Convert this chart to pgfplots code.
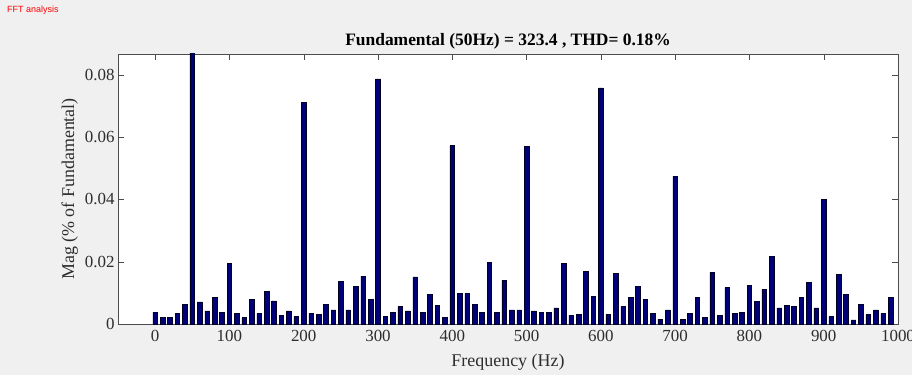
\documentclass[border=0pt]{standalone}
\usepackage{pgfplots}
\pgfplotsset{compat=1.18}
\usepackage{fontspec}
\setmainfont{Liberation Serif}
\newfontfamily\uisans{Liberation Sans}
\definecolor{bg}{RGB}{240,240,240}
\definecolor{barblue}{RGB}{0,0,120}
\definecolor{ticktxt}{RGB}{45,45,45}
\pgfplotstableread{
f m
0 0.0037
10 0.0020
20 0.0020
30 0.0034
40 0.0063
50 0.1000
60 0.0071
70 0.0042
80 0.0085
90 0.0037
100 0.0194
110 0.0034
120 0.0020
130 0.0080
140 0.0034
150 0.0105
160 0.0074
170 0.0028
180 0.0042
190 0.0024
200 0.0712
210 0.0034
220 0.0031
230 0.0063
240 0.0045
250 0.0136
260 0.0045
270 0.0120
280 0.0154
290 0.0080
300 0.0787
310 0.0024
320 0.0037
330 0.0056
340 0.0042
350 0.0151
360 0.0037
370 0.0094
380 0.0059
390 0.0020
400 0.0573
410 0.0098
420 0.0098
430 0.0063
440 0.0037
450 0.0197
460 0.0037
470 0.0140
480 0.0045
490 0.0045
500 0.0570
510 0.0042
520 0.0037
530 0.0037
540 0.0052
550 0.0194
560 0.0028
570 0.0031
580 0.0169
590 0.0088
600 0.0758
610 0.0031
620 0.0162
630 0.0056
640 0.0085
650 0.0120
660 0.0080
670 0.0034
680 0.0016
690 0.0045
700 0.0474
710 0.0016
720 0.0034
730 0.0085
740 0.0020
750 0.0166
760 0.0028
770 0.0117
780 0.0034
790 0.0037
800 0.0123
810 0.0073
820 0.0112
830 0.0218
840 0.0052
850 0.0059
860 0.0056
870 0.0085
880 0.0134
890 0.0052
900 0.0400
910 0.0024
920 0.0158
930 0.0095
940 0.0013
950 0.0063
960 0.0031
970 0.0045
980 0.0034
990 0.0085
}\fft
\begin{document}
\begin{tikzpicture}[x=1bp,y=1bp]
\path[use as bounding box,fill=bg] (0,0) rectangle (912,375);
\node[anchor=north west,inner sep=0pt,text=red,font=\uisans\fontsize{9}{10}\selectfont] at (7,369) {FFT analysis};
\begin{axis}[
  at={(118bp,51bp)}, anchor=south west,
  scale only axis, width=780bp, height=270bp,
  xmin=-50, xmax=1000, ymin=0, ymax=0.0867,
  scaled y ticks=false, scaled x ticks=false,
  axis background/.style={fill=white},
  axis line style={draw=black!70},
  xtick={0,100,...,1000},
  ytick={0,0.02,0.04,0.06,0.08},
  yticklabels={0,0.02,0.04,0.06,0.08},
  tick align=inside, tick pos=both,
  major tick length=6bp,
  tick style={black!70},
  /pgf/number format/assume math mode=true,
  /pgf/number format/1000 sep={},
  tick label style={font=\fontsize{17}{18}\selectfont, text=ticktxt},
  xticklabel style={yshift=-3bp},
  title={\textbf{Fundamental (50Hz) = 323.4 , THD= 0.18\%}},
  title style={font=\fontsize{17.5}{19}\selectfont, yshift=-5bp},
  xlabel={Frequency (Hz)},
  ylabel={Mag (\% of Fundamental)},
  label style={font=\fontsize{18}{20}\selectfont, text=ticktxt},
  xlabel style={yshift=-5bp},
  ylabel style={yshift=0bp},
]
\addplot[ybar, bar width=6.3, fill=barblue, draw=black!70!barblue, line width=0.6bp] table[x=f,y=m] {\fft};
\end{axis}
\end{tikzpicture}
\end{document}
